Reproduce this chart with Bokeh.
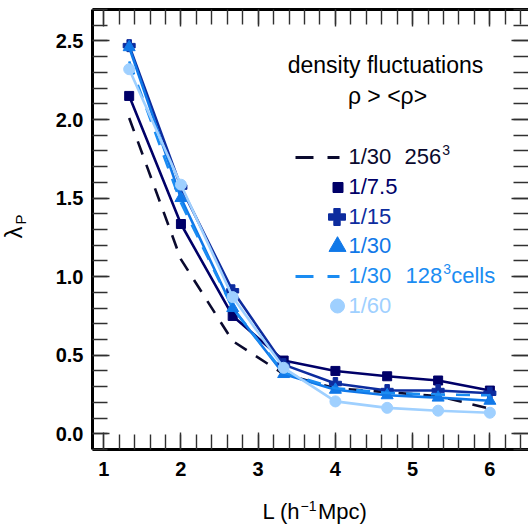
import math
from bokeh.plotting import figure
from bokeh.models import (LinearAxis, Label, Range1d, SingleIntervalTicker,
                          CustomJSTickFormatter, NumeralTickFormatter)
from bokeh.embed import file_html
from bokeh.resources import INLINE

# ---------------- data ----------------
L = [1.33, 2.00, 2.67, 3.33, 4.00, 4.67, 5.33, 6.00]
lam_30_256 = [2.01, 1.11, 0.59, 0.38, 0.29, 0.265, 0.24, 0.16]
lam_7_5 = [2.15, 1.335, 0.75, 0.466, 0.40, 0.366, 0.339, 0.275]
lam_15 = [2.47, 1.57, 0.91, 0.44, 0.32, 0.275, 0.275, 0.258]
lam_30 = [2.46, 1.50, 0.80, 0.38, 0.28, 0.245, 0.23, 0.21]
lam_30_128 = [2.37, 1.47, 0.80, 0.39, 0.29, 0.26, 0.25, 0.245]
lam_60 = [2.32, 1.585, 0.87, 0.42, 0.206, 0.165, 0.147, 0.134]

legend_labels = ["1/30", "1/7.5", "1/15", "1/30", "1/30", "1/60"]
title_lines = ["density fluctuations", "\u03c1 > <\u03c1>"]

# ---------------- style ----------------
C_BLACK = "#0a0a2e"
C_SQ = "#000068"
C_PLUS = "#0d2c9e"
C_TRI = "#1078e8"
C_DASH = "#1a8cf2"
C_CIRC = "#9fd0ff"
FONT = "Liberation Sans"

W, H = 528, 529
X0, X1 = 0.855, 6.5
Y0, Y1 = -0.1, 2.7
FL, FB, FR, FT = 92, 449, 528, 9  # frame edges in page pixels

p = figure(width=W, height=H, x_range=Range1d(X0, X1), y_range=Range1d(Y0, Y1),
           output_backend="svg", toolbar_location=None,
           x_axis_type=None, y_axis_type=None,
           min_border_left=FL, min_border_right=W - FR, min_border_top=FT,
           min_border_bottom=H - FB)
p.outline_line_color = None
p.grid.visible = False
p.background_fill_color = "white"
p.border_fill_color = "white"

xt = SingleIntervalTicker(interval=1, num_minor_ticks=5)
yt = SingleIntervalTicker(interval=0.5, num_minor_ticks=5)
blank = CustomJSTickFormatter(code="return ''")


def style_axis(ax, labels=True, line=True):
    ax.major_tick_in = 17
    ax.major_tick_out = 0
    ax.minor_tick_in = 15
    ax.minor_tick_out = 0
    ax.major_tick_line_width = 1.4
    ax.minor_tick_line_width = 1.4
    ax.major_tick_line_color = "#303030"
    ax.minor_tick_line_color = "#303030"
    ax.axis_line_width = 3
    ax.axis_line_color = "black" if line else None
    if labels:
        ax.major_label_text_font = FONT
        ax.major_label_text_font_style = "bold"
        ax.major_label_text_font_size = "20px"
        ax.major_label_text_color = "black"
    else:
        ax.formatter = blank
        ax.major_label_text_font_size = "0px"
        ax.major_label_standoff = 0


bx = LinearAxis(ticker=xt)
style_axis(bx)
bx.major_label_standoff = 12
p.add_layout(bx, "below")

tx = LinearAxis(ticker=xt)
style_axis(tx, labels=False)
p.add_layout(tx, "above")

ly = LinearAxis(ticker=yt, formatter=NumeralTickFormatter(format="0.0"))
style_axis(ly)
ly.major_label_standoff = 9
p.add_layout(ly, "left")

ry = LinearAxis(ticker=yt)
style_axis(ry, labels=False, line=False)
p.add_layout(ry, "right")

# ---------------- series ----------------
p.line(L, lam_30_256, line_color=C_BLACK, line_width=2.6, line_dash="14 11")
p.line(L, lam_7_5, line_color=C_SQ, line_width=2.6)
p.scatter(L, lam_7_5, marker="square", size=9, fill_color=C_SQ, line_color=C_SQ)
p.line(L, lam_15, line_color=C_PLUS, line_width=2.6)
p.scatter(L, lam_15, marker="plus", size=12, fill_color=C_PLUS, line_color=C_PLUS)
p.line(L, lam_30, line_color=C_TRI, line_width=2.6)
p.scatter(L, lam_30, marker="triangle", size=12, fill_color=C_TRI, line_color=C_TRI)
p.line(L, lam_30_128, line_color=C_DASH, line_width=2.6, line_dash="14 11")
p.line(L, lam_60, line_color=C_CIRC, line_width=2.6)
p.scatter(L, lam_60, marker="circle", size=11, fill_color=C_CIRC, line_color=C_CIRC)


# ---------------- helpers for page-pixel placement ----------------
def px2x(px):
    return X0 + (px - FL) * (X1 - X0) / (FR - FL)


def py2y(py):
    return Y0 + (FB - py) * (Y1 - Y0) / (FB - FT)


def lab(text, px, py, size, color="black", align="left", baseline="alphabetic",
        angle=0.0, panel=None):
    # empirical correction: the label text renders ~0.36 em below the requested baseline
    sh = 0.36 * size
    if angle == 0.0:
        py = py - sh
    else:
        px = px - sh
    lb = Label(x=px2x(px), y=py2y(py), text=text,
               text_font=FONT, text_font_size=f"{size}px", text_color=color,
               text_align=align, text_baseline=baseline, angle=angle)
    if panel is None:
        p.add_layout(lb)
    else:
        p.add_layout(lb, panel)


# ---------------- legend block ----------------
lab(title_lines[0], 385, 73, 23, align="center")
lab(title_lines[1], 387, 104, 23, align="center")

row_y = [164, 194, 224, 253, 283, 313]
tx0 = 348
colors = [C_BLACK, C_SQ, C_PLUS, C_TRI, C_DASH, C_CIRC]
for lbl, yb, c in zip(legend_labels, row_y, colors):
    lab(lbl, tx0, yb, 22, color=c)
W256 = 1.668 * 22
lab("256", 404, row_y[0], 22, color=C_BLACK)
lab("3", 404 + W256 + 1, row_y[0] - 9, 14, color=C_BLACK)
lab("128", 405, row_y[4], 22, color=C_DASH)
lab("3", 405 + W256 + 1, row_y[4] - 9, 14, color=C_DASH)
lab("cells", 405 + W256 + 9, row_y[4], 22, color=C_DASH)

p.line([px2x(295), px2x(339)], [py2y(157), py2y(157)], line_color=C_BLACK, line_width=3, line_dash="18 14")
p.line([px2x(295), px2x(339)], [py2y(276), py2y(276)], line_color=C_DASH, line_width=3, line_dash="18 14")
p.scatter([px2x(337.5)], [py2y(187)], marker="square", size=10, fill_color=C_SQ, line_color=C_SQ)
p.scatter([px2x(336.5)], [py2y(216.5)], marker="plus", size=17, fill_color=C_PLUS, line_color=C_PLUS)
p.scatter([px2x(337)], [py2y(246)], marker="triangle", size=17, fill_color=C_TRI, line_color=C_TRI)
p.scatter([px2x(337)], [py2y(305.5)], marker="circle", size=14, fill_color=C_CIRC, line_color=C_CIRC)

# ---------------- axis titles (in side panels so they are not clipped) ----------------
lab("L (h\u00a0\u00a0\u00a0Mpc)", 262, 519, 22, panel="below")
lab("\u22121", 300, 511, 14, panel="below")

lab("\u03bb", 22, 238, 24, angle=math.pi / 2, panel="left")
lab("P", 25, 224, 15, angle=math.pi / 2, panel="left")

open("out.html", "w").write(file_html(p, INLINE))
